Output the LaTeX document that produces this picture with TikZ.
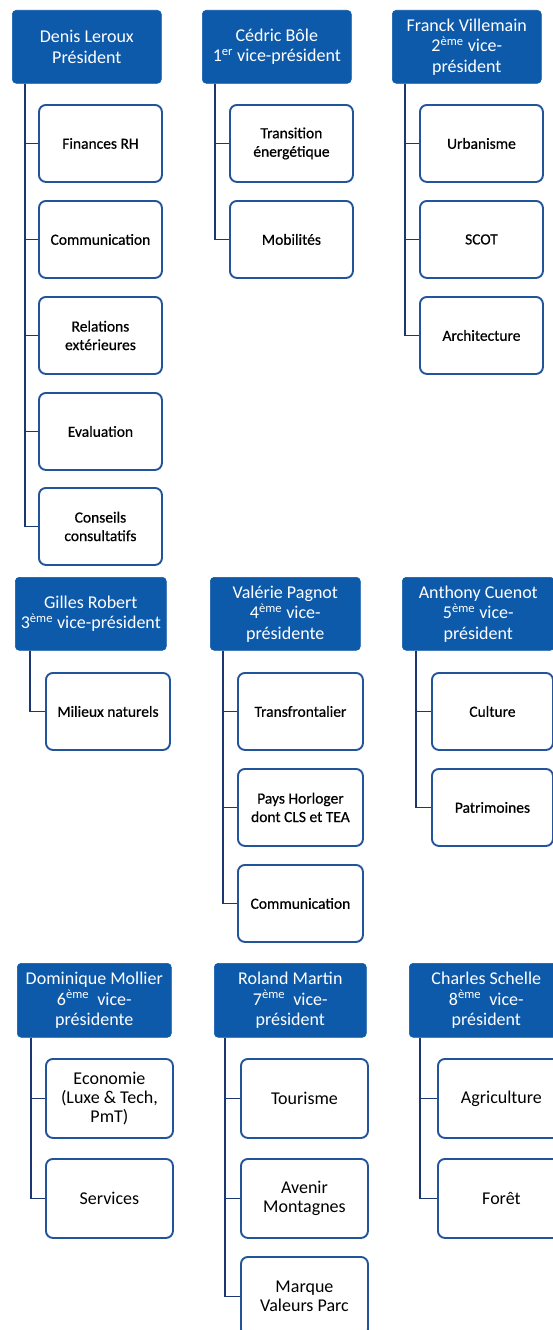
\documentclass[tikz,border=0pt]{standalone}
\usepackage{fontspec}
\setmainfont{Carlito}
\newfontfamily\subfamily[FakeBold=0.6]{Carlito}
\definecolor{hdrblue}{RGB}{14,90,170}
\definecolor{boxblue}{RGB}{34,84,155}
\definecolor{lineblue}{RGB}{28,55,112}
\newcommand{\hdrfont}{\fontsize{18}{20.5}\selectfont}
\newcommand{\subfont}{\subfamily\fontsize{15.5}{18.5}\selectfont}
\newcommand{\bigsubfont}{\rmfamily\fontsize{18}{18.8}\selectfont}
\tikzset{
  hdr/.style={fill=hdrblue, draw=hdrblue, line width=0.6pt, rounded corners=4pt,
    text=white, align=center, font=\hdrfont, inner sep=1pt, anchor=north west,
    minimum height=73pt},
  sub/.style={draw=boxblue, line width=1.9pt, rounded corners=7pt, fill=white,
    text=black, align=center, font=\subfont, inner sep=1pt, anchor=north west,
    minimum height=77pt},
  bigsub/.style={sub, font=\bigsubfont, minimum height=79pt},
  conn/.style={draw=lineblue, line width=1.8pt}
}
\begin{document}
\begin{tikzpicture}[x=1pt,y=-1pt]
\useasboundingbox (0,0) rectangle (553,1330);
\clip (0,0) rectangle (553,1330);
\fill[white] (0,0) rectangle (553,1330);

% ---------- Row 1 ----------
\node[hdr, minimum width=149pt] (h1) at (12,10) {Denis Leroux\\Président};
\node[hdr, minimum width=149pt] (h2) at (202,10) {Cédric Bôle\\1\textsuperscript{er} vice-président};
\node[hdr, minimum width=149pt] (h3) at (392,10) {Franck Villemain\\2\textsuperscript{ème} vice-\\président};

\node[sub, minimum width=123pt] (b11) at (38,104) {Finances RH};
\node[sub, minimum width=123pt] (b12) at (38,200) {Communication};
\node[sub, minimum width=123pt] (b13) at (38,296) {Relations\\extérieures};
\node[sub, minimum width=123pt] (b14) at (38,392) {Evaluation};
\node[sub, minimum width=123pt] (b15) at (38,487) {Conseils\\consultatifs};

\node[sub, minimum width=123pt] (b21) at (229,104) {Transition\\énergétique};
\node[sub, minimum width=123pt] (b22) at (229,200) {Mobilités};

\node[sub, minimum width=123pt] (b31) at (419,104) {Urbanisme};
\node[sub, minimum width=123pt] (b32) at (419,200) {SCOT};
\node[sub, minimum width=123pt] (b33) at (419,296) {Architecture};

\foreach \b in {b11,b12,b13,b14,b15}
  \draw[conn] ([xshift=13pt]h1.south west) |- (\b.west);
\foreach \b in {b21,b22}
  \draw[conn] ([xshift=13pt]h2.south west) |- (\b.west);
\foreach \b in {b31,b32,b33}
  \draw[conn] ([xshift=13pt]h3.south west) |- (\b.west);

% ---------- Row 2 ----------
\node[hdr, minimum width=151pt] (h4) at (15,577) {Gilles Robert\\3\textsuperscript{ème} vice-président};
\node[hdr, minimum width=150pt] (h5) at (210,577) {Valérie Pagnot\\4\textsuperscript{ème} vice-\\présidente};
\node[hdr, minimum width=152pt] (h6) at (402,577) {Anthony Cuenot\\5\textsuperscript{ème} vice-\\président};

\node[sub, minimum width=124pt] (b41) at (45,672) {Milieux naturels};

\node[sub, minimum width=125pt] (b51) at (237,672) {Transfrontalier};
\node[sub, minimum width=125pt] (b52) at (237,768) {Pays Horloger\\dont CLS et TEA};
\node[sub, minimum width=125pt] (b53) at (237,864) {Communication};

\node[sub, minimum width=121pt] (b61) at (431,672) {Culture};
\node[sub, minimum width=121pt] (b62) at (431,768) {Patrimoines};

\draw[conn] ([xshift=15pt]h4.south west) |- (b41.west);
\foreach \b in {b51,b52,b53}
  \draw[conn] ([xshift=13pt]h5.south west) |- (\b.west);
\foreach \b in {b61,b62}
  \draw[conn] ([xshift=14pt]h6.south west) |- (\b.west);

% ---------- Row 3 ----------
\node[hdr, minimum width=154pt, minimum height=74pt] (h7) at (17,963) {Dominique Mollier\\6\textsuperscript{ème}\ \ vice-\\présidente};
\node[hdr, minimum width=152pt, minimum height=74pt] (h8) at (214,963) {Roland Martin\\7\textsuperscript{ème}\ \ vice-\\président};
\node[hdr, minimum width=154pt, minimum height=74pt] (h9) at (409,963) {Charles Schelle\\8\textsuperscript{ème}\ \ vice-\\président};

\node[bigsub, minimum width=127pt] (b71) at (45,1058) {Economie\\(Luxe \& Tech,\\PmT)};
\node[bigsub, minimum width=127pt] (b72) at (45,1158) {Services};

\node[bigsub, minimum width=127pt] (b81) at (240,1058) {Tourisme};
\node[bigsub, minimum width=127pt] (b82) at (240,1158) {Avenir\\Montagnes};
\node[bigsub, minimum width=127pt] (b83) at (240,1256) {Marque\\Valeurs Parc};

\node[bigsub, minimum width=127pt] (b91) at (437,1058) {Agriculture};
\node[bigsub, minimum width=127pt] (b92) at (437,1158) {Forêt};

\foreach \b in {b71,b72}
  \draw[conn] ([xshift=14pt]h7.south west) |- (\b.west);
\foreach \b in {b81,b82,b83}
  \draw[conn] ([xshift=11pt]h8.south west) |- (\b.west);
\foreach \b in {b91,b92}
  \draw[conn] ([xshift=11pt]h9.south west) |- (\b.west);
\end{tikzpicture}
\end{document}
